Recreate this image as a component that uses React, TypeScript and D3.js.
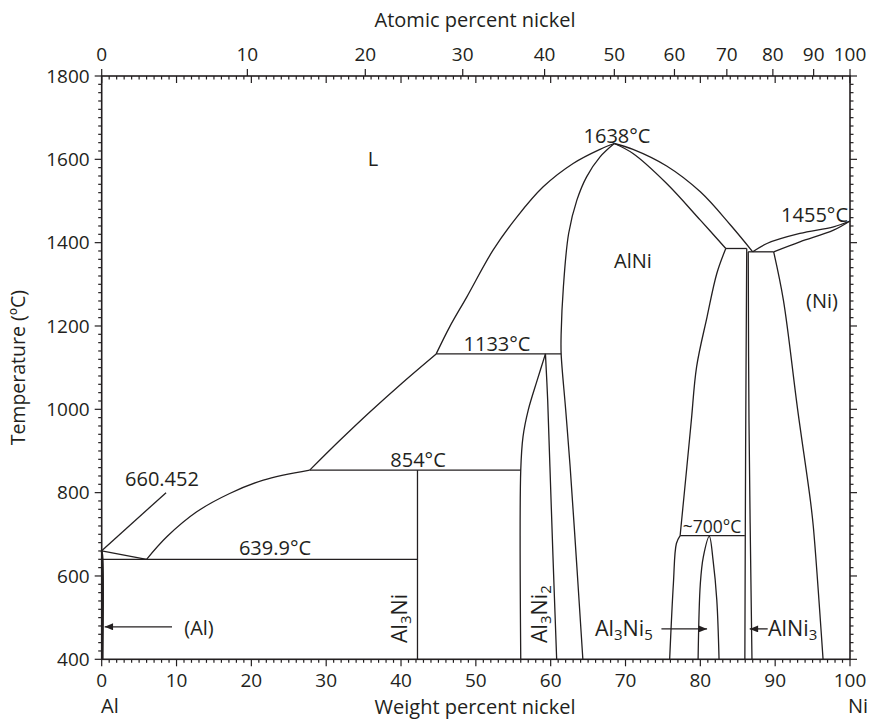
import React from 'react';
import * as d3 from 'd3';

// ---------- axes ----------
const tempTicks = [400, 600, 800, 1000, 1200, 1400, 1600, 1800];
const wtTicks = [0, 10, 20, 30, 40, 50, 60, 70, 80, 90, 100];
const atTicks = [0, 10, 20, 30, 40, 50, 60, 70, 80, 90, 100];
const M_NI = 58.69;
const M_AL = 26.98;

// ---------- phase boundaries: [wt% Ni, T °C] ----------
const alLiquidus: [number, number][] = [[0, 660.452], [6.0, 639.9]];
const al3NiLiquidus: [number, number][] = [[6.0, 639.9], [8.7, 694], [12.7, 754], [17.1, 798], [21.6, 830], [27.8, 854]];
const al3Ni2Liquidus: [number, number][] = [[27.8, 854], [31.8, 925], [35.8, 993], [40.2, 1064], [44.7, 1133]];
const alNiLiquidusL: [number, number][] = [[44.7, 1133], [46.5, 1198], [48.8, 1270], [52.3, 1382], [55.5, 1462], [59.0, 1534], [63.0, 1590], [66.6, 1624], [68.5, 1638]];
const alNiLiquidusR: [number, number][] = [[68.5, 1638], [71.0, 1624], [75.5, 1584], [80.0, 1522], [84.0, 1443], [87.0, 1378]];
const alNiBoundL: [number, number][] = [[64.3, 400], [63.5, 622], [62.6, 862], [62.0, 1000], [61.4, 1133], [61.4, 1182], [61.7, 1294], [62.4, 1422], [63.5, 1502], [64.8, 1558], [66.6, 1606], [68.5, 1638]];
const alNiSolidusR: [number, number][] = [[68.5, 1638], [71.0, 1614], [75.5, 1542], [80.0, 1454], [83.4, 1386]];
const alNiSolvusR: [number, number][] = [[83.4, 1386], [82.2, 1326], [80.9, 1222], [79.5, 1102], [78.8, 974], [78.2, 862], [77.3, 697]];
const alNiSolvusLow: [number, number][] = [[77.3, 697], [76.8, 678], [76.4, 582], [75.9, 400]];
const peritectic1386: [number, number][] = [[83.4, 1386], [86.2, 1386]];
const eutectic1378: [number, number][] = [[86.4, 1378], [89.8, 1378]];
const alNi3Left: [number, number][] = [[86.2, 1386], [86.05, 900], [85.95, 400]];
const alNi3Right: [number, number][] = [[86.4, 1378], [86.5, 974], [86.9, 400]];
const niSolvus: [number, number][] = [[89.8, 1378], [91.1, 1262], [93.0, 1000], [94.7, 782], [95.1, 718], [96.4, 400]];
const niLiquidus: [number, number][] = [[87.0, 1378], [88.9, 1398], [93.3, 1422], [97.8, 1438], [100, 1452]];
const niSolidus: [number, number][] = [[89.8, 1378], [93.3, 1402], [97.8, 1430], [100, 1452]];
const line1133: [number, number][] = [[44.7, 1133], [61.4, 1133]];
const line854: [number, number][] = [[27.8, 854], [56.0, 854]];
const line639: [number, number][] = [[0, 639.9], [42.2, 639.9]];
const al3Ni: [number, number][] = [[42.2, 854], [42.2, 400]];
const al3Ni2Left: [number, number][] = [[56.0, 400], [56.0, 854], [56.3, 934], [57.0, 998], [58.2, 1070], [59.3, 1133]];
const al3Ni2Right: [number, number][] = [[59.3, 1133], [59.6, 1022], [59.9, 862], [60.3, 650], [60.8, 400]];
const line700: [number, number][] = [[77.3, 697], [85.95, 697]];
const al3Ni5: [number, number][] = [[79.7, 400], [80.0, 582], [80.4, 646], [81.2, 695], [81.7, 638], [82.2, 542], [82.5, 400]];
const alSolidus: [number, number][] = [[0, 660.452], [0.12, 639.9], [0.12, 400]];
const leader660: [number, number][] = [[0, 660.452], [8.6, 800]];

const curves = [
  alLiquidus, al3NiLiquidus, al3Ni2Liquidus, alNiLiquidusL, alNiLiquidusR, alNiBoundL,
  alNiSolidusR, alNiSolvusR, alNiSolvusLow, peritectic1386, eutectic1378, alNi3Left, alNi3Right,
  niSolvus, niLiquidus, niSolidus, line1133, line854, line639, al3Ni, al3Ni2Left, al3Ni2Right,
  line700, al3Ni5, leader660,
];

// arrows: [fromWt, toWt, T]
const arrows: [number, number, number][] = [[9.4, 0.4, 478], [74.8, 80.9, 473], [89.0, 86.6, 473]];

const FONT = "'Open Sans', 'DejaVu Sans', sans-serif";
const INK = '#231f20';

export default function App() {
  const x = d3.scaleLinear().domain([0, 100]).range([101.7, 850]);
  const y = d3.scaleLinear().domain([400, 1800]).range([659.3, 76]);
  const line = d3.line<[number, number]>().x((d) => x(d[0])).y((d) => y(d[1])).curve(d3.curveCatmullRom.alpha(0.5));
  const atToWt = (a: number) => (a * M_NI) / (a * M_NI + (100 - a) * M_AL) * 100;

  const minorT = d3.range(400, 1801, 20);
  const minorW = d3.range(0, 101, 1);
  const x0 = x(0), x1 = x(100), y0 = y(400), y1 = y(1800);
  const sub = 15;

  return (
    <svg width={871} height={720} style={{ position: 'absolute', left: 0, top: 0, background: '#fff' }} fontFamily={FONT}>
      <rect x={0} y={0} width={871} height={720} fill="#fff" />
      <defs>
        <marker id="ah" viewBox="0 0 12 10" refX={12} refY={5} markerWidth={12} markerHeight={7} markerUnits="userSpaceOnUse" orient="auto">
          <path d="M0,0 L12,5 L0,10 z" fill={INK} />
        </marker>
      </defs>

      {/* frame */}
      <rect x={x0} y={y1} width={x1 - x0} height={y0 - y1} fill="none" stroke={INK} strokeWidth={1.6} />

      {/* left & right ticks */}
      {minorT.map((t) => {
        const major = t % 200 === 0;
        const len = major ? 7 : 3.5;
        return (
          <g key={'t' + t}>
            <line x1={x0 - len} x2={x0} y1={y(t)} y2={y(t)} stroke={INK} strokeWidth={1.2} />
            <line x1={x1} x2={x1 + len} y1={y(t)} y2={y(t)} stroke={INK} strokeWidth={1.2} />
          </g>
        );
      })}
      {tempTicks.map((t) => (
        <text key={'tl' + t} x={x0 - 12} y={y(t)} dy="0.36em" textAnchor="end" fontSize={19} fill={INK}>{t}</text>
      ))}

      {/* bottom & top wt ticks */}
      {minorW.map((w) => {
        const major = w % 10 === 0;
        return (
          <g key={'w' + w}>
            <line x1={x(w)} x2={x(w)} y1={y0} y2={y0 + (major ? 7 : 3.5)} stroke={INK} strokeWidth={1.2} />
            <line x1={x(w)} x2={x(w)} y1={y1} y2={y1 + (major ? 7 : 3.5)} stroke={INK} strokeWidth={1.2} />
          </g>
        );
      })}
      {wtTicks.map((w) => (
        <text key={'wl' + w} x={x(w)} y={y0 + 28} textAnchor="middle" fontSize={19} fill={INK}>{w}</text>
      ))}
      {atTicks.map((a) => (
        <g key={'a' + a}>
          <line x1={x(atToWt(a))} x2={x(atToWt(a))} y1={y1 - 7} y2={y1} stroke={INK} strokeWidth={1.2} />
          <text x={x(atToWt(a))} y={y1 - 15} textAnchor="middle" fontSize={19} fill={INK}>{a}</text>
        </g>
      ))}

      {/* axis titles */}
      <text x={475} y={27} textAnchor="middle" fontSize={20} fill={INK}>Atomic percent nickel</text>
      <text x={475} y={714} textAnchor="middle" fontSize={20} fill={INK}>Weight percent nickel</text>
      <text x={101} y={713} fontSize={20} fill={INK}>Al</text>
      <text x={848} y={713} fontSize={20} fill={INK}>Ni</text>
      <text transform={`translate(25,${(y0 + y1) / 2}) rotate(-90)`} textAnchor="middle" fontSize={19.5} fill={INK}>Temperature (ºC)</text>

      {/* phase boundaries */}
      {curves.map((c, i) => (
        <path key={'c' + i} d={line(c) || ''} fill="none" stroke={INK} strokeWidth={1.3} />
      ))}
      <path d={line(alSolidus) || ''} fill="none" stroke={INK} strokeWidth={2} />

      {/* arrows */}
      {arrows.map((a, i) => (
        <line key={'ar' + i} x1={x(a[0])} x2={x(a[1])} y1={y(a[2])} y2={y(a[2])} stroke={INK} strokeWidth={1.3} markerEnd="url(#ah)" />
      ))}

      {/* labels */}
      <g fontSize={20} fill={INK}>
        <text x={373} y={166} textAnchor="middle">L</text>
        <text x={633} y={268} textAnchor="middle">AlNi</text>
        <text x={822} y={308} textAnchor="middle">(Ni)</text>
        <text x={199} y={635} textAnchor="middle">(Al)</text>
        <text x={617} y={143} textAnchor="middle">1638°C</text>
        <text x={848} y={222} textAnchor="end">1455°C</text>
        <text x={497} y={351} textAnchor="middle">1133°C</text>
        <text x={418} y={467} textAnchor="middle">854°C</text>
        <text x={275} y={555} textAnchor="middle">639.9°C</text>
        <text x={162} y={486} textAnchor="middle">660.452</text>
        <text x={712} y={533} textAnchor="middle" fontSize={17.5}>~700°C</text>
      </g>
      <g fontSize={21.5} fill={INK}>
        <text transform="translate(407,643) rotate(-90)">Al<tspan fontSize={sub} dy={4}>3</tspan><tspan dy={-4}>Ni</tspan></text>
        <text transform="translate(547,643) rotate(-90)">Al<tspan fontSize={sub} dy={4}>3</tspan><tspan dy={-4}>Ni</tspan><tspan fontSize={sub} dy={4}>2</tspan></text>
        <text x={595} y={636}>Al<tspan fontSize={sub} dy={4}>3</tspan><tspan dy={-4}>Ni</tspan><tspan fontSize={sub} dy={4}>5</tspan></text>
        <text x={768} y={636}>AlNi<tspan fontSize={sub} dy={4}>3</tspan></text>
      </g>
    </svg>
  );
}
